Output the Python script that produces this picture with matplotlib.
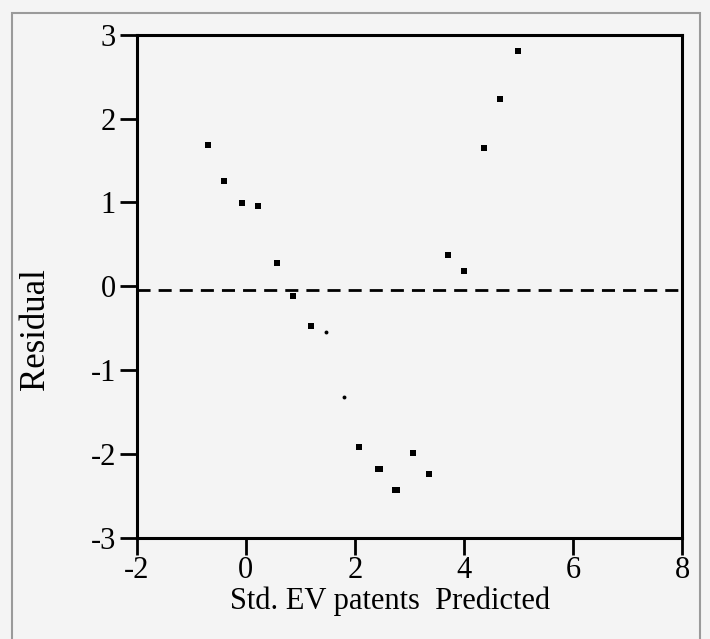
import matplotlib
matplotlib.use("Agg")
import matplotlib.pyplot as plt
from matplotlib.patches import Rectangle

plt.rcParams['font.family'] = ['Liberation Serif', 'DejaVu Serif']
plt.rcParams['axes.unicode_minus'] = False

# Data
x_pred = [-0.685, -0.40, -0.06, 0.22, 0.565, 0.86, 1.20, 2.08, 2.42, 2.47,
          2.73, 2.78, 3.06, 3.36, 3.71, 4.00, 4.36, 4.66, 5.00]
y_resid = [1.69, 1.25, 0.99, 0.96, 0.28, -0.11, -0.47, -1.92, -2.18, -2.18,
           -2.43, -2.43, -1.99, -2.24, 0.375, 0.18, 1.65, 2.23, 2.80]
x_small = [1.47, 1.81]
y_small = [-0.545, -1.32]
ref_level = -0.05
x_ticks = [-2, 0, 2, 4, 6, 8]
y_ticks = [-3, -2, -1, 0, 1, 2, 3]

fig = plt.figure(figsize=(7.10, 6.39), dpi=100)
fig.patch.set_facecolor('#f4f4f4')
fig.patches.append(Rectangle((12/710, -0.01), (700-12)/710, 1 - 13/639 + 0.01,
                             transform=fig.transFigure, fill=False,
                             edgecolor='#9a9a9a', linewidth=1.5))

ax = fig.add_axes([136.7/710, 1 - 538/639, (682-136.7)/710, (538-34.6)/639])
ax.set_facecolor('#f4f4f4')

ax.plot(x_pred, y_resid, linestyle='none', marker='s', markersize=4.3,
        color='black', markeredgewidth=0)
ax.plot(x_small, y_small, linestyle='none', marker='o', markersize=2.8,
        color='black', markeredgewidth=0)
ax.axhline(ref_level, color='black', linewidth=2, dashes=(4.7, 2.9))

ax.set_xlim(-2, 8)
ax.set_ylim(-3, 3)
ax.set_xticks(x_ticks)
ax.set_yticks(y_ticks)
ax.set_xticklabels([str(v) for v in x_ticks])
ax.set_yticklabels([str(v) for v in y_ticks])
ax.tick_params(direction='out', length=12, width=2, labelsize=22,
               colors='black')
ax.tick_params(axis='y', pad=3)
ax.tick_params(axis='x', pad=1)
for s in ax.spines.values():
    s.set_linewidth(2.2)
    s.set_color('black')

ax.set_xlabel('Std. EV patents  Predicted', fontsize=22)
ax.set_ylabel('Residual', fontsize=25)
ax.xaxis.set_label_coords(0.4645, -0.097)
ax.yaxis.set_label_coords(-0.156, 0.415)

fig.savefig('out.png', dpi=100, facecolor=fig.get_facecolor())
